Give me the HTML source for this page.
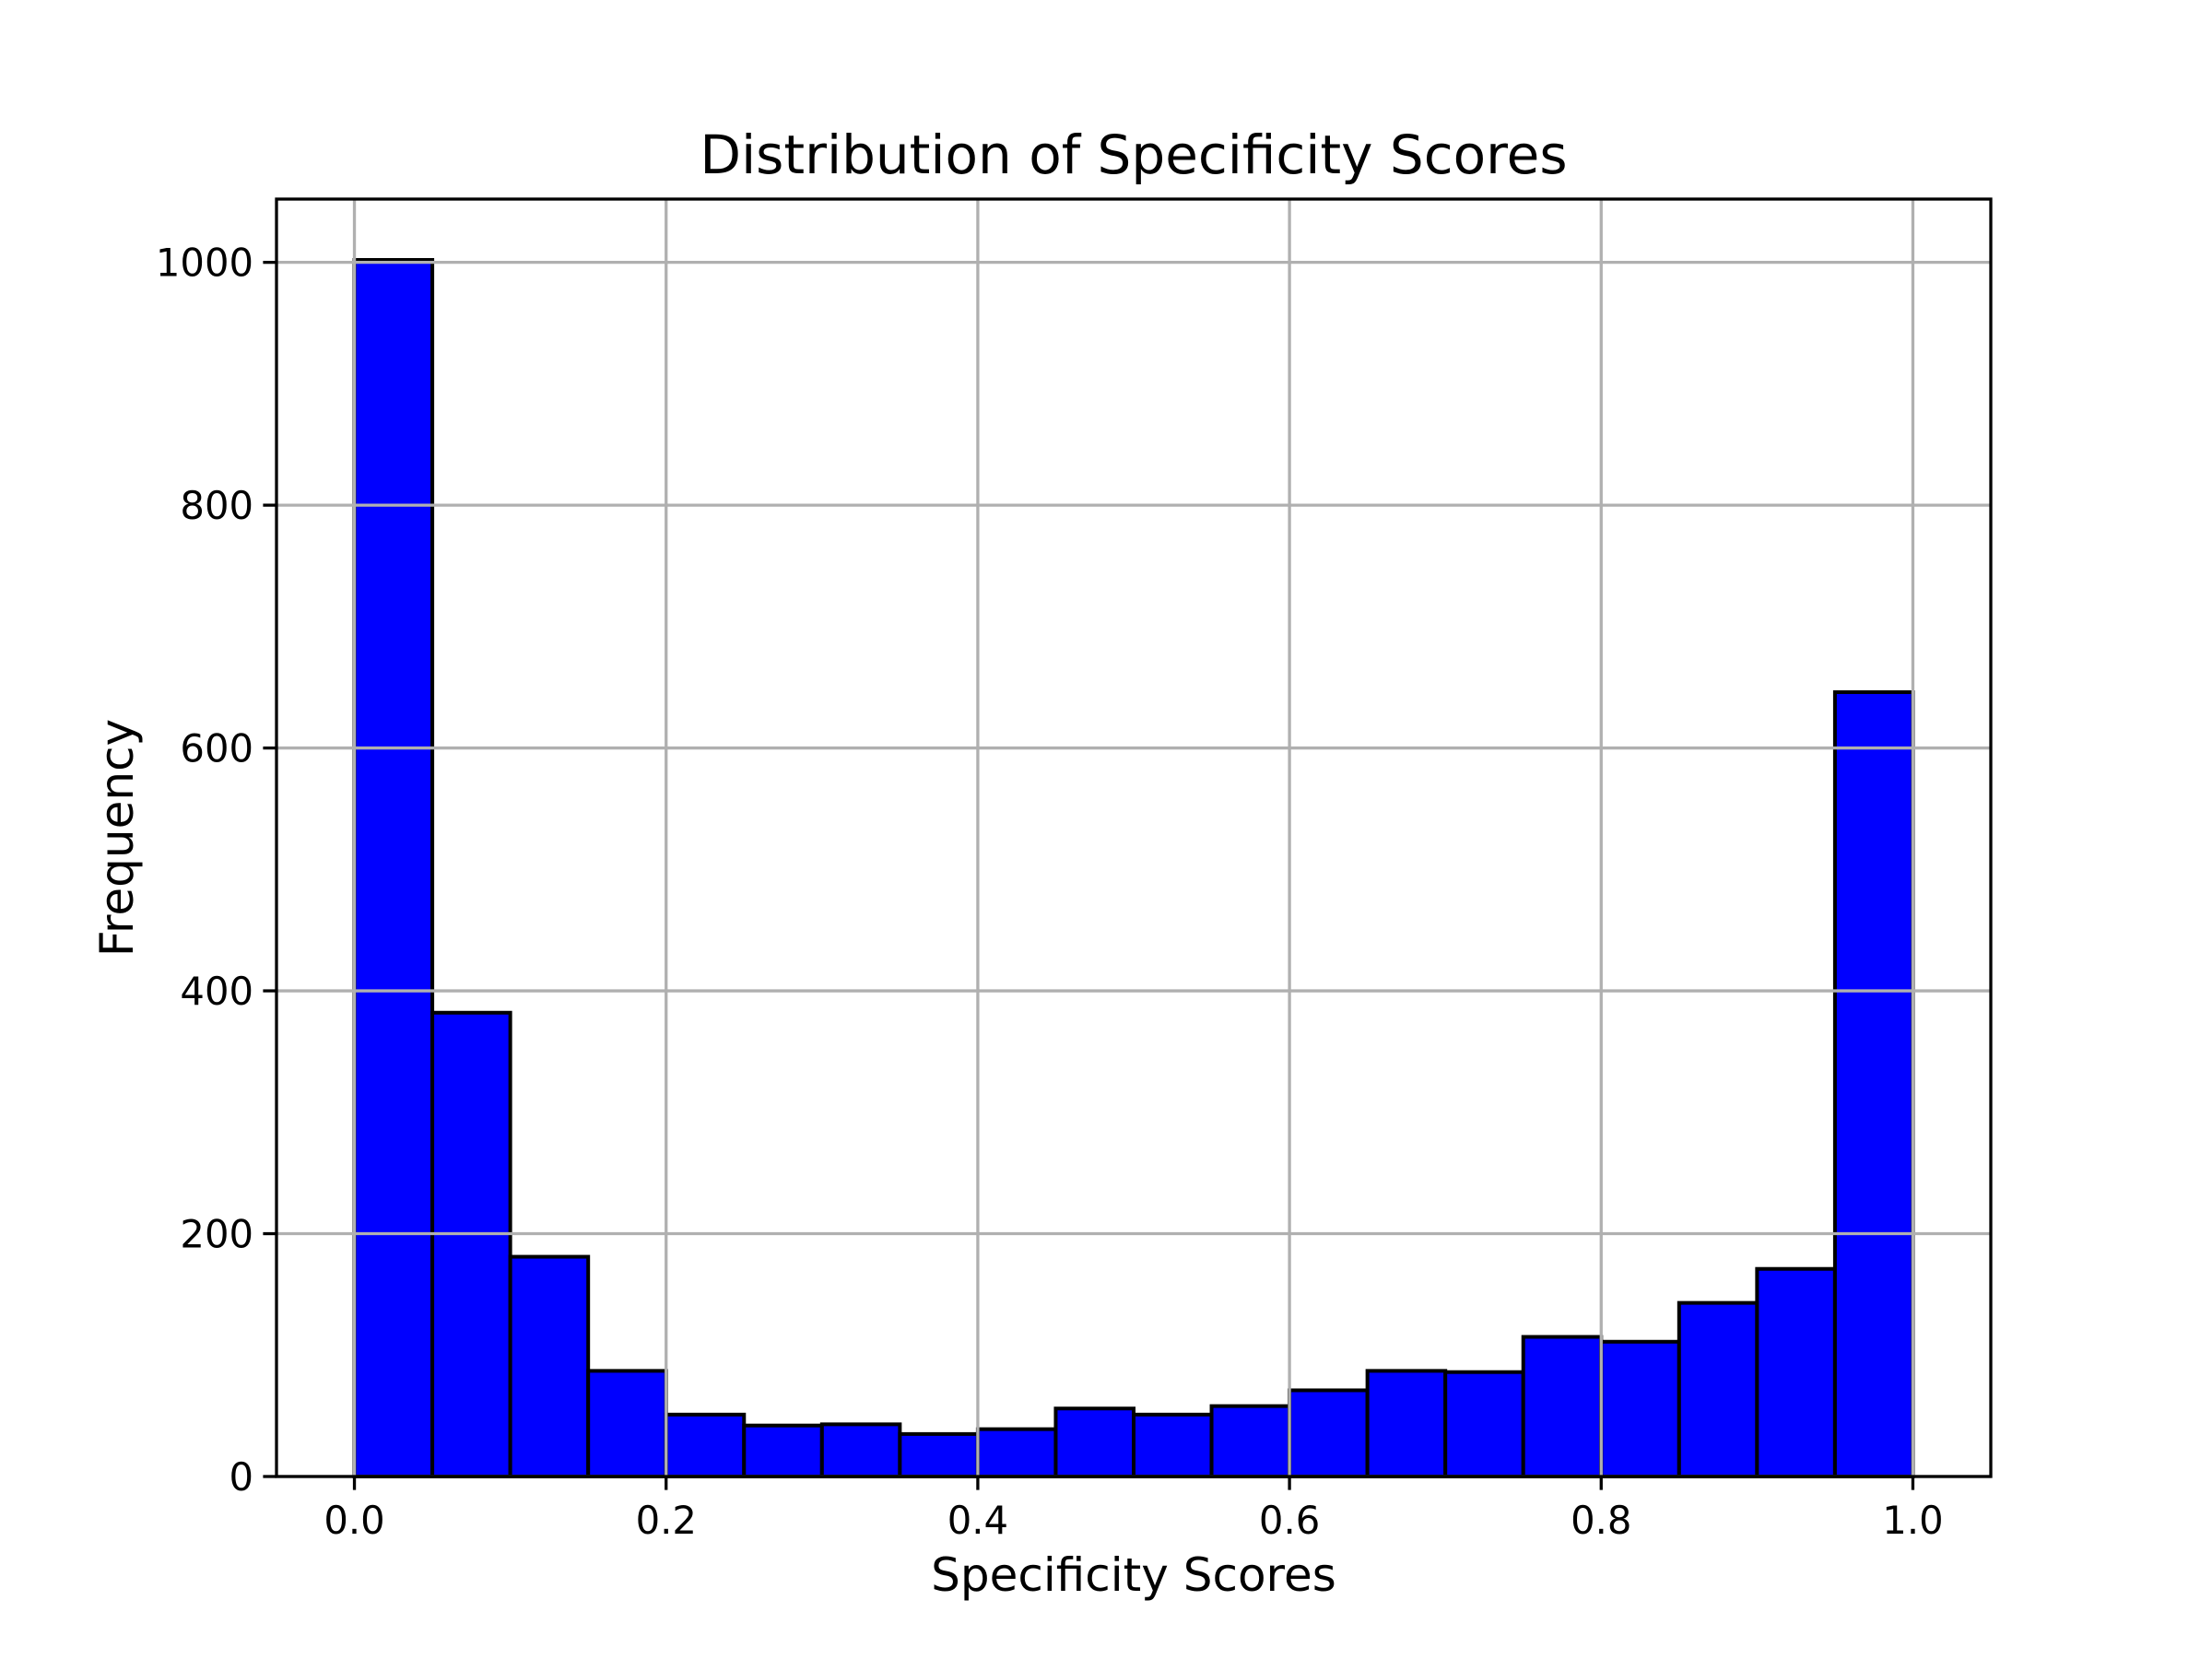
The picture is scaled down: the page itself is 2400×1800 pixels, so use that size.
<!DOCTYPE html>
<html><head><meta charset="utf-8"><style>
html,body{margin:0;padding:0;background:#fff;}
svg{display:block;font-family:"DejaVu Sans","Liberation Sans",sans-serif;}
</style></head><body>
<svg id="chart" width="2400" height="1800" viewBox="0 0 2400 1800" xmlns="http://www.w3.org/2000/svg">
<rect width="2400" height="1800" fill="#fff"/>
<g id="bars"></g>
<g id="grid"></g>
<g id="axes"></g>
<text x="1230" y="188" font-size="58" text-anchor="middle">Distribution of Specificity Scores</text>
<text x="1230" y="1726" font-size="50" text-anchor="middle">Specificity Scores</text>
<text x="144" y="909" font-size="50" text-anchor="middle" transform="rotate(-90 144 909)">Frequency</text>
</svg>
<script>
const binStarts = [0,0.05,0.1,0.15,0.2,0.25,0.3,0.35,0.4,0.45,0.5,0.55,0.6,0.65,0.7,0.75,0.8,0.85,0.9,0.95];
const counts = [1002,382,181,87,51,42,43,35,39,56,51,58,71,87,86,115,111,143,171,646];
const xTicks = [0.0,0.2,0.4,0.6,0.8,1.0];
const xTickLabels = ["0.0","0.2","0.4","0.6","0.8","1.0"];
const yTicks = [0,200,400,600,800,1000];
const yTickLabels = ["0","200","400","600","800","1000"];
const binWidth = 0.05;

const L=300,R=2160,T=216,B=1602;
const xMin=-0.05,xMax=1.05,yMin=0,yMax=Math.max(...counts)*1.05;
const xs=v=>L+(v-xMin)/(xMax-xMin)*(R-L);
const ys=v=>B-(v-yMin)/(yMax-yMin)*(B-T);
const NS="http://www.w3.org/2000/svg";
function mk(tag,attrs,parent){const e=document.createElementNS(NS,tag);for(const k in attrs)e.setAttribute(k,attrs[k]);parent.appendChild(e);return e;}
const bars=document.getElementById('bars'),grid=document.getElementById('grid'),axes=document.getElementById('axes');
counts.forEach((c,i)=>{
  const x0=xs(binStarts[i]),x1=xs(binStarts[i]+binWidth);
  const r=mk('rect',{x:x0,y:ys(c),width:x1-x0,height:ys(0)-ys(c),fill:'#0000ff',stroke:'#000','stroke-width':4},bars);
  
  
});
xTicks.forEach((t,i)=>{
  const x=xs(t);
  const g=mk('line',{x1:x,x2:x,y1:T,y2:B,stroke:'#b0b0b0','stroke-width':3.3},grid);
  
  
  const tk=mk('line',{x1:x,x2:x,y1:B,y2:B+14.6,stroke:'#000','stroke-width':3.3},axes);
  
  
  const tx=mk('text',{x:x,y:B+62,'font-size':41.7,'text-anchor':'middle'},axes);
  tx.textContent=xTickLabels[i];
  
  
});
yTicks.forEach((t,i)=>{
  const y=ys(t);
  const g=mk('line',{x1:L,x2:R,y1:y,y2:y,stroke:'#b0b0b0','stroke-width':3.3},grid);
  
  
  const tk=mk('line',{x1:L-14.6,x2:L,y1:y,y2:y,stroke:'#000','stroke-width':3.3},axes);
  
  
  const tx=mk('text',{x:L-25,y:y+15,'font-size':41.7,'text-anchor':'end'},axes);
  tx.textContent=yTickLabels[i];
  
  
});
const f=mk('rect',{x:L,y:T,width:R-L,height:B-T,fill:'none',stroke:'#000','stroke-width':3.3},axes);


</script>
</body></html>
